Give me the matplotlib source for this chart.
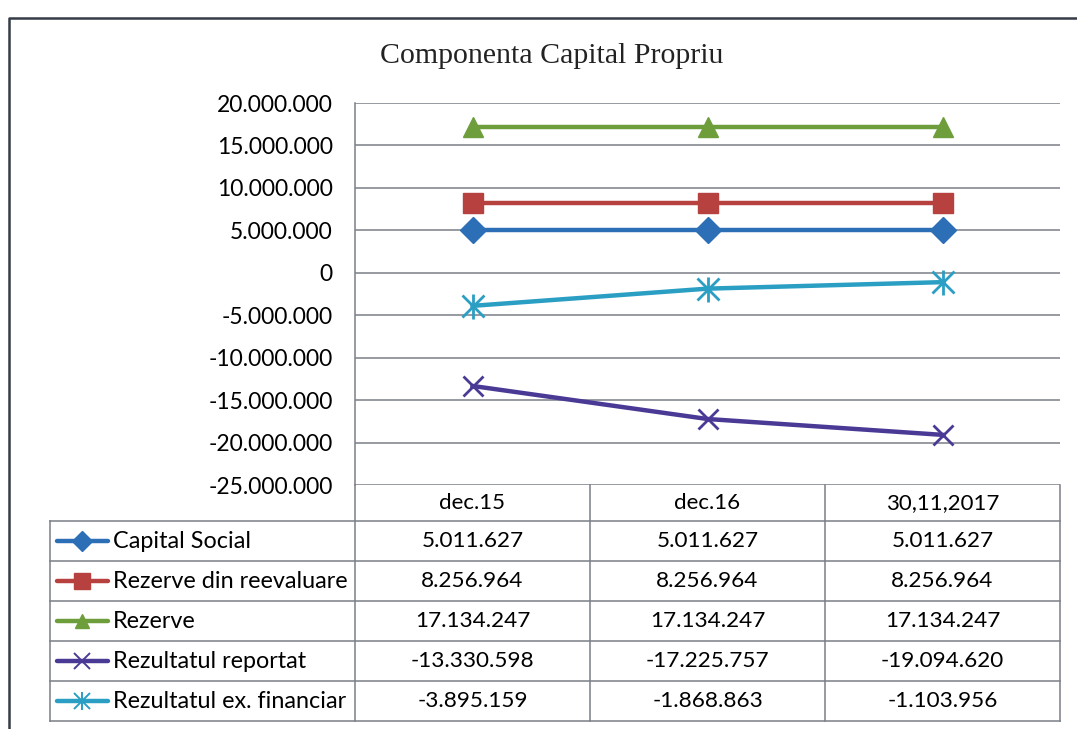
import matplotlib.pyplot as plt
from matplotlib.lines import Line2D

categories = ["dec.15", "dec.16", "30,11,2017"]
series_names = [
    "Capital Social",
    "Rezerve din reevaluare",
    "Rezerve",
    "Rezultatul reportat",
    "Rezultatul ex. financiar",
]
capital_social = [5011627, 5011627, 5011627]
rezerve_reevaluare = [8256964, 8256964, 8256964]
rezerve = [17134247, 17134247, 17134247]
rezultat_reportat = [-13330598, -17225757, -19094620]
rezultat_financiar = [-3895159, -1868863, -1103956]
y_ticks = list(range(-25000000, 20000001, 5000000))

series_values = [capital_social, rezerve_reevaluare, rezerve,
                 rezultat_reportat, rezultat_financiar]
colors = ["#2D6FB7", "#B7413F", "#6E9E3C", "#4A3A95", "#2A9EC3"]
markers = ["D", "s", "^", "x", "*"]
msizes = [13, 15, 14, 14, 16]

W, H = 1077, 729
fig = plt.figure(figsize=(W / 100, H / 100), dpi=100)
fig.patch.set_facecolor("white")

num_font = "Lato"
grid_col = "#7A7F86"


def fmt(v):
    return f"{v:,}".replace(",", ".")


# plot area in pixel terms
px_l, px_r, px_t, px_b = 355, 1060, 103, 485
ax = fig.add_axes([px_l / W, 1 - px_b / H, (px_r - px_l) / W, (px_b - px_t) / H])
for vals, c, m, ms in zip(series_values, colors, markers, msizes):
    if m in ("x", "*"):
        ax.plot(range(len(categories)), vals, color=c, lw=3.2, marker="none", zorder=3)
        ax.plot(range(len(categories)), vals, ls="none", marker="x", ms=ms,
                mec=c, mew=2.0, zorder=4)
        if m == "*":
            ax.plot(range(len(categories)), vals, ls="none", marker="|", ms=ms + 2,
                    mec=c, mew=2.0, zorder=4)
    else:
        ax.plot(range(len(categories)), vals, color=c, lw=3.2, marker=m, ms=ms,
                mfc=c, mec=c, zorder=3)

ax.set_xlim(-0.5, len(categories) - 0.5)
ax.set_ylim(y_ticks[0], y_ticks[-1])
ax.set_yticks(y_ticks)
ax.set_yticklabels([fmt(t) for t in y_ticks], fontsize=16.5, family=num_font)
ax.set_xticks([])
ax.tick_params(axis="y", length=0, pad=16)
ax.yaxis.grid(True, color=grid_col, lw=1.1)
ax.set_axisbelow(True)
for s in ("top", "right", "bottom"):
    ax.spines[s].set_visible(False)
ax.spines["left"].set_color(grid_col)
ax.spines["left"].set_linewidth(1.1)

# overlay for the data table, title and outer frame, in pixel coordinates
ov = fig.add_axes([0, 0, 1, 1], facecolor="none")
ov.set_xlim(0, W)
ov.set_ylim(H, 0)
ov.axis("off")

ov.text(552, 56, "Componenta Capital Propriu", ha="center", va="center",
        fontsize=21.5, family="Liberation Serif", color="#222222")

# outer chart frame
ov.plot([9, 9, W + 5], [H + 5, 18, 18], color="#353C46", lw=1.8, clip_on=False)

col_edges = [355, 590, 825, 1060]
label_left = 50
header_top, row_top, row_h = 485, 521, 40
n_rows = len(series_names)
table_bottom = row_top + n_rows * row_h
line_kw = dict(color=grid_col, lw=1.1)

for x in col_edges:
    ov.plot([x, x], [header_top, table_bottom], **line_kw)
ov.plot([label_left, label_left], [row_top, table_bottom], **line_kw)
for i in range(n_rows + 1):
    y = row_top + i * row_h
    ov.plot([label_left, col_edges[-1]], [y, y], **line_kw)

for j, cat in enumerate(categories):
    cx = (col_edges[j] + col_edges[j + 1]) / 2
    ov.text(cx, (header_top + row_top) / 2, cat, ha="center", va="center",
            fontsize=16, family=num_font)

for i, (name, vals, c, m) in enumerate(zip(series_names, series_values, colors, markers)):
    cy = row_top + i * row_h + row_h / 2
    ov.add_line(Line2D([57, 108], [cy, cy], color=c, lw=3.2, solid_capstyle="round"))
    if m in ("x", "*"):
        ov.plot([82], [cy], ls="none", marker="x", ms=11, mec=c, mew=1.4)
        if m == "*":
            ov.plot([82], [cy], ls="none", marker="|", ms=13, mec=c, mew=1.4)
    else:
        ov.plot([82], [cy], ls="none", marker=m, ms=10 if m != "s" else 12,
                mfc=c, mec=c)
    ov.text(113, cy, name, ha="left", va="center", fontsize=16.8, family=num_font)
    for j, v in enumerate(vals):
        cx = (col_edges[j] + col_edges[j + 1]) / 2
        ov.text(cx, cy, fmt(v), ha="center", va="center", fontsize=16.2, family=num_font)

fig.savefig("out.png", dpi=100)
